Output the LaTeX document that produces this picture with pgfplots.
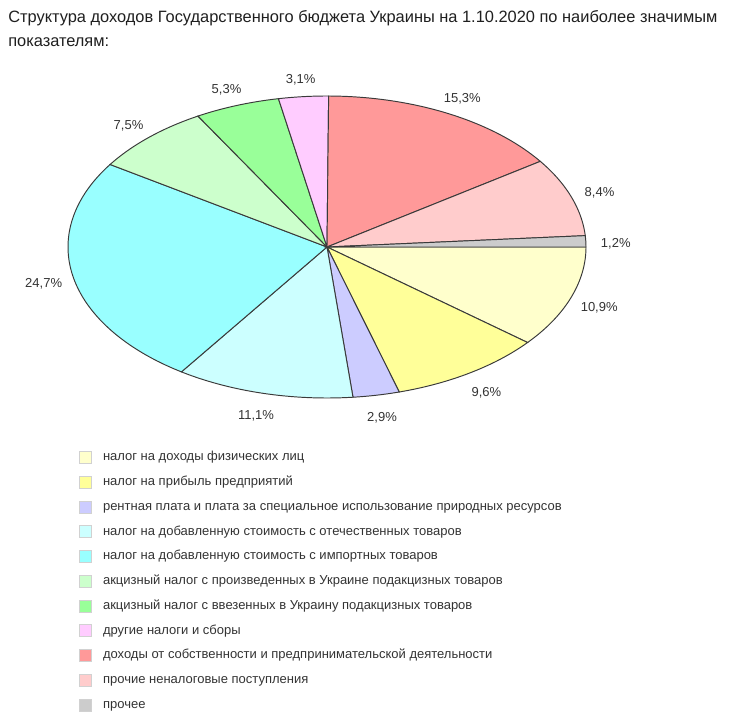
\documentclass[border=0pt]{standalone}
\usepackage{fontspec}
\setmainfont{Liberation Sans}
\usepackage{pgfplots}
\usepackage{pgfplotstable}
\pgfplotsset{compat=1.18}

% slice colours, in the order of the shares below
\definecolor{c0}{HTML}{FFFFCC}
\definecolor{c1}{HTML}{FFFF99}
\definecolor{c2}{HTML}{CCCCFF}
\definecolor{c3}{HTML}{CCFFFF}
\definecolor{c4}{HTML}{99FFFF}
\definecolor{c5}{HTML}{CCFFCC}
\definecolor{c6}{HTML}{99FF99}
\definecolor{c7}{HTML}{FFCCFF}
\definecolor{c8}{HTML}{FF9999}
\definecolor{c9}{HTML}{FFCCCC}
\definecolor{c10}{HTML}{CCCCCC}
\definecolor{txt}{HTML}{333333}
\definecolor{edge}{HTML}{3A3A3A}

% shares in percent, clockwise from 3 o'clock
\pgfplotstableread{
share
10.9
9.6
2.9
11.1
24.7
7.5
5.3
3.1
15.3
8.4
1.2
}\shares

% pie geometry in pixel units (y up)
\def\cx{327}
\def\cy{472}
\def\rx{259}
\def\ry{151}

\begin{document}%
\gdef\cum{0}%
\foreach \i in {0,...,10}{%
  \pgfplotstablegetelem{\i}{share}\of\shares
  \let\v\pgfplotsretval
  \pgfmathsetmacro\s{\cum*3.6}%
  \pgfmathsetmacro\e{(\cum+\v)*3.6}%
  \pgfmathsetmacro\m{(\cum+\v/2)*3.6}%
  \expandafter\xdef\csname pieS\i\endcsname{\s}%
  \expandafter\xdef\csname pieE\i\endcsname{\e}%
  \expandafter\xdef\csname pieM\i\endcsname{\m}%
  \expandafter\xdef\csname pieV\i\endcsname{\v}%
  \pgfmathsetmacro\c{\cum+\v}%
  \xdef\cum{\c}%
}%
\begin{tikzpicture}
\begin{axis}[
  scale only axis,
  width=555pt, height=539.25pt,
  xmin=0, xmax=740, ymin=0, ymax=719,
  hide axis, clip=false,
  legend style={
    at={(axis description cs:0.1068,0.3728)}, anchor=north west,
    draw=none, fill=none, inner sep=0pt,
    font=\fontsize{9.75}{11}\selectfont, text=txt,
    row sep=9.05pt,
    nodes={inner sep=0pt, text height=7.2pt, text depth=2.2pt},
    /tikz/every odd column/.append style={column sep=8.3pt},
  },
  legend cell align=left,
  legend image code/.code={
    \draw[#1, draw=black!18, line width=0.5pt] (0pt,-4.5pt) rectangle (9pt,4.5pt);
  },
]
\pgfplotsinvokeforeach{0,...,10}{
  \addplot[fill=c#1, draw=edge, line width=0.72pt, samples=80,
    domain=\csname pieS#1\endcsname:\csname pieE#1\endcsname]
    ({\cx+\rx*cos(x)}, {\cy-\ry*sin(x)}) -- (axis cs:\cx,\cy) -- cycle;
  \node[text=txt, font=\fontsize{9.75}{11}\selectfont] at
    (axis cs:{\cx+(\rx+30)*cos(\csname pieM#1\endcsname)},
             {\cy-3-(\ry+20)*sin(\csname pieM#1\endcsname)})
    {\pgfmathprintnumber[assume math mode=true, use comma, fixed,
      fixed zerofill, precision=1]{\csname pieV#1\endcsname}\%};
}
\legend{
  налог на доходы физических лиц,
  налог на прибыль предприятий,
  рентная плата и плата за специальное использование природных ресурсов,
  налог на добавленную стоимость с отечественных товаров,
  налог на добавленную стоимость с импортных товаров,
  акцизный налог с произведенных в Украине подакцизных товаров,
  акцизный налог с ввезенных в Украину подакцизных товаров,
  другие налоги и сборы,
  доходы от собственности и предпринимательской деятельности,
  прочие неналоговые поступления,
  прочее}
\node[anchor=base west, inner sep=0pt, text=black!88,
  font=\fontsize{12.3}{15}\selectfont] at (axis cs:8,696)
  {Структура доходов Государственного бюджета Украины на 1.10.2020 по наиболее значимым};
\node[anchor=base west, inner sep=0pt, text=black!88,
  font=\fontsize{12.3}{15}\selectfont] at (axis cs:8,672)
  {показателям:};
\end{axis}
\path (current axis.south west) rectangle (current axis.north east);
\end{tikzpicture}
\end{document}
